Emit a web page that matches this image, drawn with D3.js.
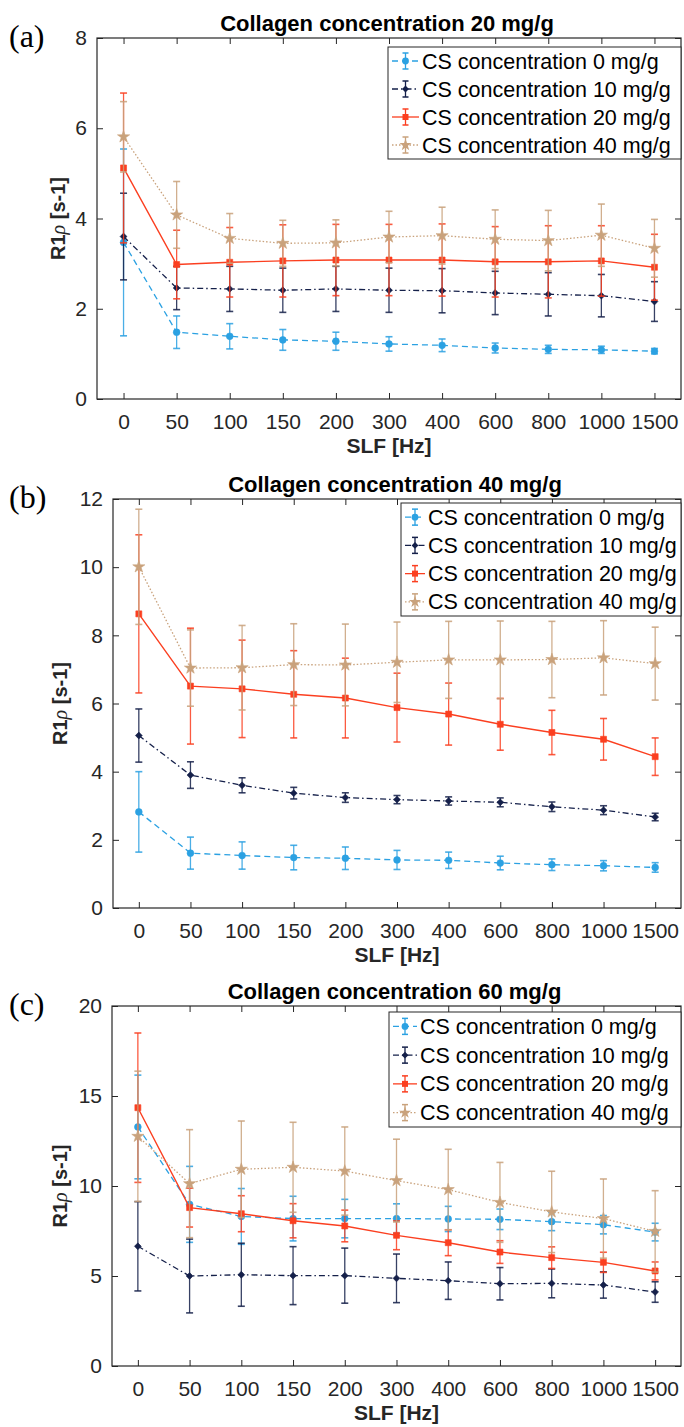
<!DOCTYPE html>
<html><head><meta charset="utf-8">
<script src="https://cdn.jsdelivr.net/npm/d3@7"></script>
<style>body{margin:0;background:#fff}svg{display:block}</style>
</head><body>
<script>
// ---------- data ----------
const slf = ["0","50","100","150","200","300","400","600","800","1000","1500"];
const seriesNames = ["CS concentration 0 mg/g","CS concentration 10 mg/g","CS concentration 20 mg/g","CS concentration 40 mg/g"];
const panelTitles = ["Collagen concentration 20 mg/g","Collagen concentration 40 mg/g","Collagen concentration 60 mg/g"];
const panelLetters = ["(a)","(b)","(c)"];
const yTicksA = [0,2,4,6,8];
const yTicksB = [0,2,4,6,8,10,12];
const yTicksC = [0,5,10,15,20];

// panel (a) collagen 20 mg/g
const a_cs0  = [3.47,1.48,1.39,1.31,1.28,1.22,1.19,1.13,1.10,1.09,1.06];
const a_cs0e = [2.07,0.36,0.28,0.23,0.20,0.16,0.14,0.11,0.09,0.08,0.06];
const a_cs10  = [3.60,2.46,2.44,2.41,2.44,2.41,2.40,2.35,2.32,2.29,2.16];
const a_cs10e = [0.96,0.48,0.50,0.49,0.50,0.49,0.49,0.48,0.48,0.47,0.44];
const a_cs20  = [5.12,2.98,3.03,3.06,3.08,3.08,3.08,3.04,3.04,3.06,2.92];
const a_cs20e = [1.66,0.76,0.77,0.80,0.79,0.79,0.80,0.78,0.80,0.78,0.73];
const a_cs40  = [5.81,4.08,3.56,3.45,3.46,3.59,3.62,3.54,3.51,3.63,3.34];
const a_cs40e = [0.78,0.74,0.55,0.51,0.51,0.57,0.63,0.65,0.67,0.69,0.64];

// panel (b) collagen 40 mg/g
const b_cs0  = [2.82,1.61,1.54,1.48,1.46,1.41,1.40,1.32,1.27,1.24,1.19];
const b_cs0e = [1.18,0.47,0.40,0.36,0.33,0.28,0.24,0.20,0.17,0.15,0.14];
const b_cs10  = [5.06,3.90,3.60,3.37,3.24,3.18,3.14,3.10,2.97,2.87,2.67];
const b_cs10e = [0.78,0.39,0.22,0.17,0.14,0.12,0.12,0.13,0.14,0.13,0.11];
const b_cs20  = [8.63,6.51,6.43,6.27,6.16,5.88,5.69,5.39,5.15,4.95,4.44];
const b_cs20e = [2.32,1.70,1.43,1.28,1.17,1.01,0.91,0.76,0.65,0.61,0.55];
const b_cs40  = [10.01,7.04,7.05,7.14,7.13,7.21,7.28,7.28,7.29,7.34,7.17];
const b_cs40e = [1.69,1.12,1.24,1.20,1.20,1.18,1.13,1.14,1.12,1.09,1.07];

// panel (c) collagen 60 mg/g
const c_cs0  = [13.28,8.98,8.31,8.19,8.19,8.19,8.17,8.15,8.02,7.85,7.44];
const c_cs0e = [2.88,2.11,1.55,1.24,1.07,0.82,0.70,0.57,0.50,0.51,0.49];
const c_cs10  = [6.65,5.00,5.07,5.02,5.02,4.87,4.74,4.57,4.59,4.50,4.11];
const c_cs10e = [2.48,2.05,1.75,1.61,1.53,1.35,1.04,0.90,0.80,0.73,0.57];
const c_cs20  = [14.35,8.80,8.46,8.07,7.78,7.26,6.85,6.33,6.02,5.76,5.28];
const c_cs20e = [4.15,1.08,1.00,0.95,0.88,0.80,0.72,0.63,0.60,0.56,0.50];
const c_cs40  = [12.76,10.13,10.93,11.04,10.83,10.30,9.80,9.09,8.56,8.19,7.48];
const c_cs40e = [3.62,3.00,2.68,2.50,2.45,2.30,2.24,2.22,2.26,2.20,2.26];

// ---------- styles ----------
const colors = ["#2ba1e2","#15204a","#fb3f20","#c9a27c"];
const dashes = ["6,4","6,3,1.5,3",null,"1.5,2"];
const markers = [d3.symbolCircle, d3.symbolDiamond2, d3.symbolSquare, d3.symbolStar];
const markerSizes = [36, 30, 36, 46];

const W = 684, H = 1427;
const svg = d3.select("body").append("svg").attr("width", W).attr("height", H)
  .style("font-family", "'Liberation Sans', Arial, Helvetica, sans-serif");

const panels = [
  {means:[a_cs0,a_cs10,a_cs20,a_cs40], errs:[a_cs0e,a_cs10e,a_cs20e,a_cs40e], ticks:yTicksA,
   L:97, R:681, T:38, B:399, leg:{x:388, y:47, w:293, h:112, tx:34}},
  {means:[b_cs0,b_cs10,b_cs20,b_cs40], errs:[b_cs0e,b_cs10e,b_cs20e,b_cs40e], ticks:yTicksB,
   L:113, R:681, T:499, B:908, leg:{x:401, y:503, w:280, h:113, tx:27}},
  {means:[c_cs0,c_cs10,c_cs20,c_cs40], errs:[c_cs0e,c_cs10e,c_cs20e,c_cs40e], ticks:yTicksC,
   L:112, R:681, T:1006, B:1366, leg:{x:389, y:1012, w:292, h:115, tx:31}}
];

const axisColor = "#262626";

panels.forEach((p, pi) => {
  const g = svg.append("g");
  const x = d3.scalePoint().domain(slf).range([p.L, p.R]).padding(0.5);
  const yMax = p.ticks[p.ticks.length - 1];
  const y = d3.scaleLinear().domain([0, yMax]).range([p.B, p.T]);

  // axes (box with inward ticks)
  const tl = 6;
  const axB = d3.axisBottom(x).tickSizeInner(-tl).tickSizeOuter(0).tickPadding(15);
  const axT = d3.axisTop(x).tickSizeInner(-tl).tickSizeOuter(0).tickFormat("");
  const axL = d3.axisLeft(y).tickValues(p.ticks).tickSizeInner(-tl).tickSizeOuter(0).tickPadding(10);
  const axR = d3.axisRight(y).tickValues(p.ticks).tickSizeInner(-tl).tickSizeOuter(0).tickFormat("");
  const gb = g.append("g").attr("transform", `translate(0,${p.B})`).call(axB);
  const gt = g.append("g").attr("transform", `translate(0,${p.T})`).call(axT);
  const gl = g.append("g").attr("transform", `translate(${p.L},0)`).call(axL);
  const gr = g.append("g").attr("transform", `translate(${p.R},0)`).call(axR);
  [gb,gt,gl,gr].forEach(a => {
    a.select(".domain").remove();
    a.selectAll(".tick line").attr("stroke", axisColor).attr("stroke-width", 1);
    a.selectAll("text").attr("fill", "#262626").style("font-size", "21px")
      .style("font-family", "'Liberation Sans', Arial, sans-serif");
  });
  gb.selectAll("text").attr("dy", "0.71em");
  g.append("rect").attr("x", p.L).attr("y", p.T).attr("width", p.R - p.L).attr("height", p.B - p.T)
    .attr("fill", "none").attr("stroke", axisColor).attr("stroke-width", 1.2);

  // series
  p.means.forEach((vals, si) => {
    const errs = p.errs[si];
    const col = colors[si];
    const sg = g.append("g");
    const cap = 3.5;
    vals.forEach((v, i) => {
      const cx = x(slf[i]);
      const y1 = y(v + errs[i]), y0 = y(v - errs[i]);
      sg.append("line").attr("x1", cx).attr("x2", cx).attr("y1", y1).attr("y2", y0)
        .attr("stroke", col).attr("stroke-width", 1.3).attr("opacity", 0.85);
      [y1, y0].forEach(yy => sg.append("line").attr("x1", cx - cap).attr("x2", cx + cap)
        .attr("y1", yy).attr("y2", yy).attr("stroke", col).attr("stroke-width", 1.6).attr("opacity", 0.85));
    });
    const line = d3.line().x((d, i) => x(slf[i])).y(d => y(d));
    sg.append("path").datum(vals).attr("d", line).attr("fill", "none")
      .attr("stroke", col).attr("stroke-width", si === 2 ? 1.4 : 1.3)
      .attr("stroke-dasharray", dashes[si]);
    vals.forEach((v, i) => {
      sg.append("path").attr("d", d3.symbol().type(markers[si]).size(markerSizes[si])())
        .attr("transform", `translate(${x(slf[i])},${y(v)})`).attr("fill", col).attr("stroke", col)
        .attr("stroke-width", 0.6);
    });
  });

  // title
  g.append("text").attr("x", (p.L + p.R) / 2 - 2).attr("y", p.T - 7).attr("text-anchor", "middle")
    .style("font-size", "22px").style("font-weight", "bold").attr("fill", "#000").text(panelTitles[pi]);
  // x label
  g.append("text").attr("x", (p.L + p.R) / 2).attr("y", p.B + 54).attr("text-anchor", "middle")
    .style("font-size", "21px").style("font-weight", "bold").attr("fill", "#262626").text("SLF [Hz]");
  // y label
  const yl = g.append("text").attr("transform", `translate(${pi === 0 ? 65 : 67},${(p.T + p.B) / 2}) rotate(-90)`)
    .attr("text-anchor", "middle").style("font-size", "20px").style("font-weight", "bold").attr("fill", "#262626");
  yl.append("tspan").text("R1");
  yl.append("tspan").text("ρ").style("font-weight", "normal").style("font-family", "'Liberation Serif', serif").attr("font-style", "italic");
  yl.append("tspan").text(" [s-1]");
  // panel letter
  g.append("text").attr("x", 9).attr("y", p.T + 9).style("font-family", "'Liberation Serif', 'DejaVu Serif', serif")
    .style("font-size", "32px").attr("fill", "#000").text(panelLetters[pi]);

  // legend
  const lg = p.leg;
  g.append("rect").attr("x", lg.x).attr("y", lg.y).attr("width", lg.w).attr("height", lg.h)
    .attr("fill", "#fff").attr("stroke", axisColor).attr("stroke-width", 1);
  seriesNames.forEach((name, si) => {
    const ey = lg.y + lg.h / 8 + si * lg.h / 4;
    const col = colors[si];
    const x0 = lg.x + 4, x1 = lg.x + lg.tx - 3, xm = (x0 + x1) / 2;
    g.append("line").attr("x1", x0).attr("x2", x1).attr("y1", ey).attr("y2", ey)
      .attr("stroke", col).attr("stroke-width", 1.3).attr("stroke-dasharray", dashes[si]);
    g.append("line").attr("x1", xm).attr("x2", xm).attr("y1", ey - 8).attr("y2", ey + 8)
      .attr("stroke", col).attr("stroke-width", 1.3);
    [ey - 8, ey + 8].forEach(yy => g.append("line").attr("x1", xm - 3).attr("x2", xm + 3)
      .attr("y1", yy).attr("y2", yy).attr("stroke", col).attr("stroke-width", 1.5));
    g.append("path").attr("d", d3.symbol().type(markers[si]).size(markerSizes[si])())
      .attr("transform", `translate(${xm},${ey})`).attr("fill", col);
    g.append("text").attr("x", lg.x + lg.tx).attr("y", ey).attr("dy", "0.35em")
      .style("font-size", "21.5px").attr("fill", "#000").text(name);
  });
});
</script>
</body></html>
